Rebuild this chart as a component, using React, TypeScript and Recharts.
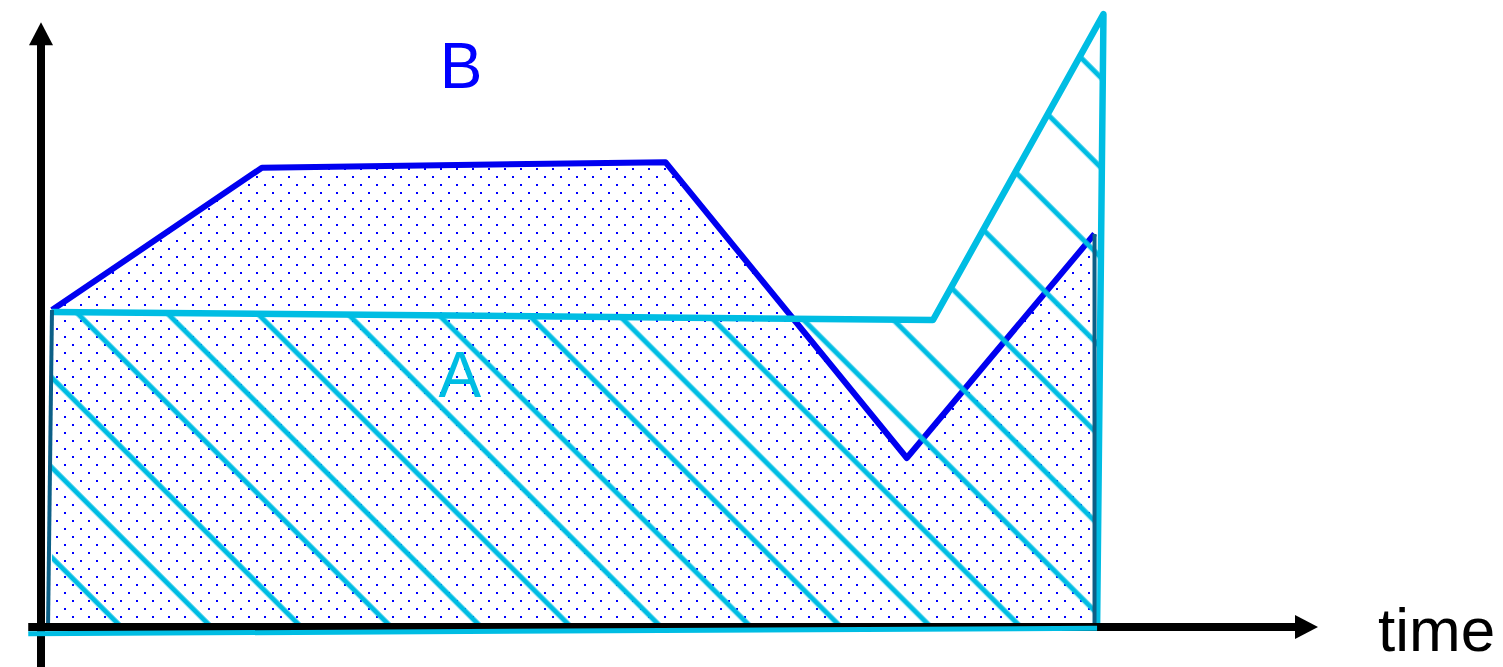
import { Area, ComposedChart, ReferenceDot, ReferenceLine, XAxis, YAxis } from "recharts";

// outline of region B (time, level)
const B_TIME = [0.86, 17.3, 48.9, 67.8, 82.5];
const B_LEVEL = [51.2, 74.2, 75.1, 27.3, 63.5];
// where B's side edges meet the time axis
const B_EDGE_BASE = [0.55, 82.5];

// outline of region A, the last point closes the right edge
const A_TIME = [0.86, 69.85, 83.2, 82.7];
const A_LEVEL = [50.9, 49.6, 99.0, 0];
// A's bottom edge, just under the time axis
const A_BASE_TIME = [-1.0, 82.7];
const A_BASE_LEVEL = [-1.1, -0.2];

// axes: start and arrow base
const X_AXIS_TIME = [-1.0, 98.2];
const Y_AXIS_LEVEL = [-6.5, 94.0];

const LABEL_TEXT = ["B", "A"];
const LABEL_TIME = [32.9, 32.8];
const LABEL_LEVEL = [87.1, 37.2];
const AXIS_TITLE = "time";
const AXIS_TITLE_POS = [104.7, -3.9];

const BLUE = "#0000f0";
const TEAL = "#0c5f86";
const CYAN = "#00bde3";

const bData = B_TIME.map((t, i) => ({ t, v: B_LEVEL[i] }));
const aData = A_TIME.map((t, i) => ({ t, v: A_LEVEL[i] }));

// eslint-disable-next-line @typescript-eslint/no-explicit-any
function ArrowLine(props: any) {
  const { x1, y1, x2, y2 } = props;
  const len = Math.hypot(x2 - x1, y2 - y1) || 1;
  const dx = (x2 - x1) / len;
  const dy = (y2 - y1) / len;
  const tipX = x2 + dx * 23;
  const tipY = y2 + dy * 23;
  const px = -dy * 12;
  const py = dx * 12;
  return (
    <g>
      <line x1={x1} y1={y1} x2={x2 + dx * 2} y2={y2 + dy * 2} stroke="#000" strokeWidth={8} />
      <polygon points={`${x2 + px},${y2 + py} ${tipX},${tipY} ${x2 - px},${y2 - py}`} fill="#000" />
    </g>
  );
}

// eslint-disable-next-line @typescript-eslint/no-explicit-any
function Word({ cx, cy, text, color, anchor, size }: any) {
  return (
    <text
      x={cx}
      y={cy}
      fill={color}
      textAnchor={anchor}
      fontSize={size}
      fontFamily="'Liberation Sans', Arial, sans-serif"
    >
      {text}
    </text>
  );
}

export default function App() {
  return (
    <div style={{ width: 1503, height: 667 }}>
      <style>{"body{margin:0}"}</style>
      <ComposedChart width={1503} height={667} margin={{ top: 8, right: 185, bottom: 40, left: 41 }}>
        <defs>
          <pattern id="dots" patternUnits="userSpaceOnUse" width={16} height={16}>
            <rect x={0} y={0} width={2.4} height={2.4} fill="#0000ff" shapeRendering="crispEdges" />
            <rect x={8} y={8} width={2.4} height={2.4} fill="#0000ff" shapeRendering="crispEdges" />
          </pattern>
          <pattern
            id="hatch"
            patternUnits="userSpaceOnUse"
            width={63.6}
            height={63.6}
            patternTransform="rotate(-45)"
          >
            <line x1={24} y1={-2} x2={24} y2={66} stroke={CYAN} strokeWidth={5} />
          </pattern>
        </defs>
        <XAxis type="number" dataKey="t" domain={[0, 100]} hide />
        <YAxis type="number" domain={[0, 100]} hide />

        <Area
          data={bData}
          dataKey="v"
          type="linear"
          stroke={BLUE}
          strokeWidth={6}
          strokeLinejoin="round"
          fill="url(#dots)"
          fillOpacity={1}
          dot={false}
          activeDot={false}
          isAnimationActive={false}
        />
        <ReferenceLine
          segment={[
            { x: B_EDGE_BASE[0], y: 0 },
            { x: B_TIME[0], y: B_LEVEL[0] },
          ]}
          stroke={TEAL}
          strokeWidth={4}
          ifOverflow="visible"
        />
        <ReferenceLine
          segment={[
            { x: B_EDGE_BASE[1], y: 0 },
            { x: B_TIME[B_TIME.length - 1], y: B_LEVEL[B_LEVEL.length - 1] },
          ]}
          stroke={TEAL}
          strokeWidth={4}
          ifOverflow="visible"
        />

        {/* axes with arrow heads */}
        <ReferenceLine
          segment={[
            { x: X_AXIS_TIME[0], y: 0 },
            { x: X_AXIS_TIME[1], y: 0 },
          ]}
          ifOverflow="visible"
          shape={ArrowLine}
        />
        <ReferenceLine
          segment={[
            { x: 0, y: Y_AXIS_LEVEL[0] },
            { x: 0, y: Y_AXIS_LEVEL[1] },
          ]}
          ifOverflow="visible"
          shape={ArrowLine}
        />

        <Area
          data={aData}
          dataKey="v"
          type="linear"
          stroke={CYAN}
          strokeWidth={6.5}
          strokeLinejoin="round"
          fill="url(#hatch)"
          fillOpacity={1}
          dot={false}
          activeDot={false}
          isAnimationActive={false}
        />
        <ReferenceLine
          segment={[
            { x: A_BASE_TIME[0], y: A_BASE_LEVEL[0] },
            { x: A_BASE_TIME[1], y: A_BASE_LEVEL[1] },
          ]}
          stroke={CYAN}
          strokeWidth={5}
          ifOverflow="visible"
        />

        {LABEL_TEXT.map((text, i) => (
          <ReferenceDot
            key={text}
            x={LABEL_TIME[i]}
            y={LABEL_LEVEL[i]}
            r={0}
            ifOverflow="visible"
            shape={(p: { cx: number; cy: number }) => (
              <Word cx={p.cx} cy={p.cy} text={text} color={i === 0 ? "#0000ff" : CYAN} anchor="middle" size={64} />
            )}
          />
        ))}
        <ReferenceDot
          x={AXIS_TITLE_POS[0]}
          y={AXIS_TITLE_POS[1]}
          r={0}
          ifOverflow="visible"
          shape={(p: { cx: number; cy: number }) => (
            <Word cx={p.cx} cy={p.cy} text={AXIS_TITLE} color="#000" anchor="start" size={62} />
          )}
        />
      </ComposedChart>
    </div>
  );
}
